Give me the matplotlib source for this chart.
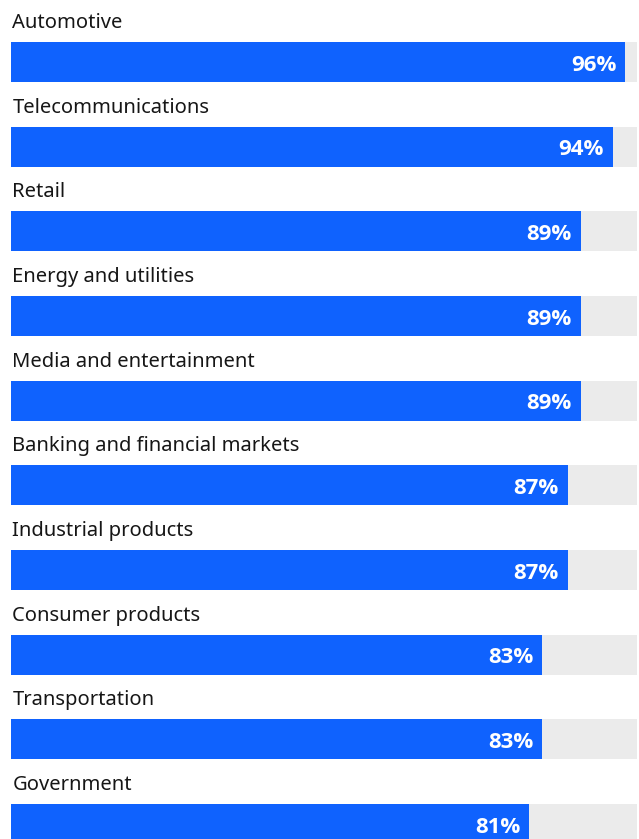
import matplotlib
matplotlib.use("Agg")
import matplotlib.pyplot as plt

categories = ["Automotive", "Telecommunications", "Retail", "Energy and utilities",
              "Media and entertainment", "Banking and financial markets",
              "Industrial products", "Consumer products", "Transportation", "Government"]
values = [96, 94, 89, 89, 89, 87, 87, 83, 83, 81]
value_labels = ["96%", "94%", "89%", "89%", "89%", "87%", "87%", "83%", "83%", "81%"]

W, H = 639, 839
DPI = 100
fig = plt.figure(figsize=(W / DPI, H / DPI), dpi=DPI)
ax = fig.add_axes([0, 0, 1, 1])

px_per_unit = 6.4          # horizontal pixels per percentage point
x0_px = 11                 # left edge of bars in pixels
row_px = 84.67             # vertical spacing between rows in pixels
first_center_px = 62       # centre of first bar in pixels

ax.set_xlim(-x0_px / px_per_unit, (W - x0_px) / px_per_unit)
ax.set_ylim((H - first_center_px) / row_px, -first_center_px / row_px)
ax.axis("off")

track_end = (637 - x0_px) / px_per_unit
bar_h = 40 / row_px
BLUE = "#0f62fe"
GRAY = "#ebebeb"

for i, (cat, v, lab) in enumerate(zip(categories, values, value_labels)):
    ax.barh(i, track_end, height=bar_h, color=GRAY, left=0, zorder=1)
    ax.barh(i, v, height=bar_h, color=BLUE, left=0, zorder=2)
    ax.text(0.2, i - 34 / row_px, cat, ha="left", va="baseline",
            fontsize=14.5, color="#161616", family=["Noto Sans", "DejaVu Sans"])
    ax.text(v - 9 / px_per_unit, i + 8.7 / row_px, lab, ha="right", va="baseline",
            fontsize=16, color="white", fontweight="bold",
            family=["Open Sans", "DejaVu Sans"], zorder=3)

fig.savefig("out.png", dpi=DPI)
